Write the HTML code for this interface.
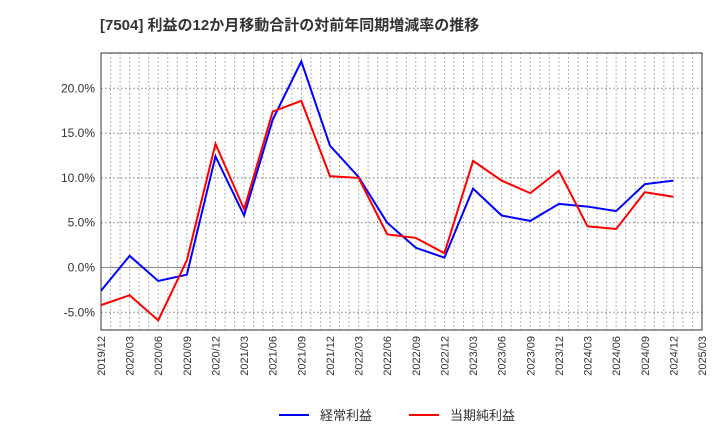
<!DOCTYPE html>
<html><head><meta charset="utf-8"><style>
body{margin:0;background:#fff;}
svg text{font-family:"Liberation Sans","Noto Sans CJK JP",sans-serif;}
</style></head><body>
<svg id="c" width="720" height="440" xmlns="http://www.w3.org/2000/svg">
<text x="100" y="30" font-size="15" font-weight="bold" fill="#333">[7504]  利益の12か月移動合計の対前年同期増減率の推移</text>
<g id="grid"></g><g id="axes"></g><g id="lines"></g>
<g>
<line x1="279" y1="415" x2="309" y2="415" stroke="#0000ff" stroke-width="2"/>
<text x="320" y="420" font-size="13" fill="#333">経常利益</text>
<line x1="409" y1="415" x2="439" y2="415" stroke="#ff0000" stroke-width="2"/>
<text x="450" y="420" font-size="13" fill="#333">当期純利益</text>
</g>
</svg>
<script>
const xLabels=["2019/12","2020/03","2020/06","2020/09","2020/12","2021/03","2021/06","2021/09","2021/12","2022/03","2022/06","2022/09","2022/12","2023/03","2023/06","2023/09","2023/12","2024/03","2024/06","2024/09","2024/12","2025/03"];
const yTicks=[-5,0,5,10,15,20];
const ordinary=[-2.6,1.3,-1.5,-0.8,12.4,5.8,16.5,23.0,13.6,10.1,5.0,2.2,1.1,8.8,5.8,5.2,7.1,6.8,6.3,9.3,9.7];
const net=[-4.2,-3.1,-5.9,0.8,13.8,6.5,17.4,18.6,10.2,10.0,3.7,3.3,1.6,11.9,9.7,8.3,10.8,4.6,4.3,8.4,7.9];
const L=101,R=702,T=53,B=330;
const xs=i=>L+(R-L)*i/(xLabels.length-1);
const ys=v=>267.5-v*8.96;
const NS="http://www.w3.org/2000/svg";
function mk(p,t,a){const e=document.createElementNS(NS,t);for(const k in a)e.setAttribute(k,a[k]);p.appendChild(e);return e;}
const g=document.getElementById('grid'),ax=document.getElementById('axes'),ln=document.getElementById('lines');
for(let m=1;m<63;m++){const x=L+(R-L)*m/63;
const l=mk(g,'line',{x1:x,x2:x,y1:T,y2:B,stroke:'#999','stroke-dasharray':'1.5,2.5'});

}
yTicks.forEach(v=>{const y=ys(v);
const l=mk(g,'line',{x1:L,x2:R,y1:y,y2:y,stroke:v===0?'#888':'#777','stroke-dasharray':v===0?'none':'1.5,2.5'});


const t=mk(ax,'text',{x:L-6,y:y+4,'text-anchor':'end','font-size':'12',fill:'#333'});t.textContent=v.toFixed(1)+'%';

});
xLabels.forEach((s,i)=>{const x=xs(i);
const t=mk(ax,'text',{transform:`translate(${x+4},${B+6}) rotate(-90)`,'text-anchor':'end','font-size':'11',fill:'#333'});t.textContent=s;

});
const fr=mk(ax,'rect',{x:L,y:T,width:R-L,height:B-T,fill:'none',stroke:'#333','stroke-width':1});


[[ordinary,'#0000ff','line-ordinary-profit'],[net,'#ff0000','line-net-profit']].forEach(([d,c,n])=>{
const p=mk(ln,'polyline',{points:d.map((v,i)=>xs(i)+','+ys(v)).join(' '),fill:'none',stroke:c,'stroke-width':2});

});
</script>
</body></html>
